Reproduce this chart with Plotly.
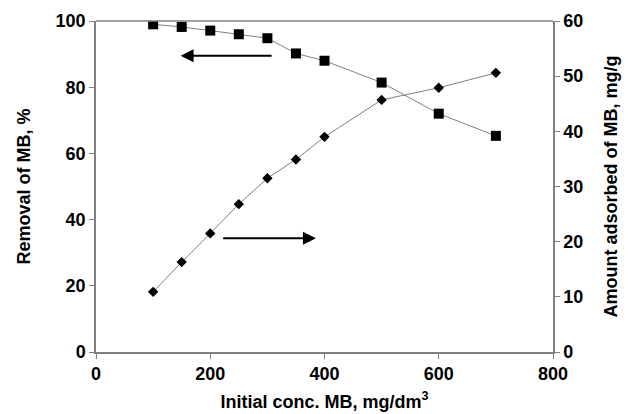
import plotly.graph_objects as go

conc = [100, 150, 200, 250, 300, 350, 400, 500, 600, 700]
removal = [99.0, 98.2, 97.1, 96.0, 94.8, 90.2, 88.0, 81.4, 72.0, 65.3]
adsorbed = [10.9, 16.3, 21.5, 26.8, 31.5, 34.9, 39.0, 45.7, 47.9, 50.6]

font = "Liberation Sans, Arial, sans-serif"
tfont = dict(family=font, size=18, color="black", weight="bold")
fig = go.Figure()
fig.add_trace(go.Scatter(x=conc, y=removal, mode="lines+markers",
                         line=dict(color="#808080", width=1),
                         marker=dict(symbol="square", size=10, color="black"),
                         showlegend=False))
fig.add_trace(go.Scatter(x=conc, y=adsorbed, mode="lines+markers", yaxis="y2",
                         line=dict(color="#808080", width=1),
                         marker=dict(symbol="diamond", size=8, color="black"),
                         showlegend=False))

# arrows
fig.add_annotation(x=148, y=89.5, ax=310, ay=89.5, xref="x", yref="y", axref="x", ayref="y",
                   showarrow=True, arrowhead=2, arrowsize=1.3, arrowwidth=2, arrowcolor="black", text="")
fig.add_annotation(x=385, y=34.4, ax=220, ay=34.4, xref="x", yref="y", axref="x", ayref="y",
                   showarrow=True, arrowhead=2, arrowsize=1.3, arrowwidth=2, arrowcolor="black", text="")

axis_common = dict(showgrid=False, zeroline=False, linecolor="#808080", linewidth=1.5,
                   ticks="outside", ticklen=5, tickcolor="#808080", automargin=False,
                   tickfont=dict(family=font, size=18, color="black", weight="bold"))

fig.update_layout(
    width=628, height=414,
    margin=dict(l=96, r=75, t=21, b=62),
    paper_bgcolor="white", plot_bgcolor="white",
    xaxis=dict(range=[0, 800], dtick=200, mirror=False, showline=True,
               title=dict(text="Initial conc. MB, mg/dm<sup>3</sup>", standoff=12, font=tfont),
               **axis_common),
    yaxis=dict(range=[0, 100], dtick=20, showline=True,
               title=dict(text="Removal of MB, %", standoff=20, font=tfont),
               **axis_common),
    yaxis2=dict(range=[0, 60], dtick=10, overlaying="y", side="right", showline=True,
                title=dict(text="Amount adsorbed of MB, mg/g", standoff=22, font=tfont),
                **axis_common),
)
# top border line
fig.add_shape(type="line", xref="paper", yref="paper", x0=0, x1=1, y0=1, y1=1,
              line=dict(color="#808080", width=1.5))

fig.write_html("out.html")
